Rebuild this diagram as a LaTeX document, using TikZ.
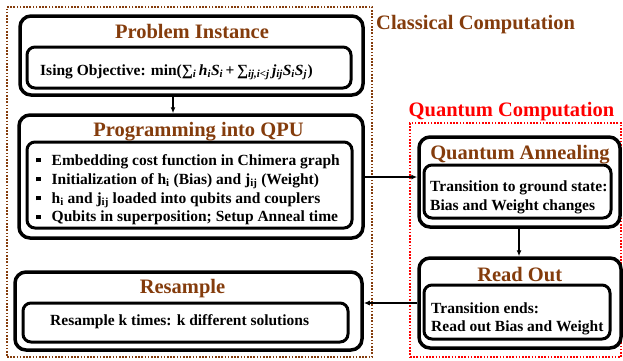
\documentclass[tikz,border=0pt]{standalone}
\usepackage{fontspec}
\setmainfont{Liberation Serif}
\usetikzlibrary{arrows.meta}
\definecolor{brn}{HTML}{843C0C}
\definecolor{qred}{HTML}{FF0000}
\tikzset{
  obox/.style={draw, line width=3.5pt, rounded corners=11pt},
  ibox/.style={draw, line width=3pt, rounded corners=8pt},
  cframe/.style={draw=brn, line width=1.8pt, dash pattern=on 1.6pt off 1.6pt},
  qframe/.style={draw=qred, line width=1.8pt, dash pattern=on 1.6pt off 1.6pt},
  ttl/.style={inner sep=0pt, text=brn, font=\bfseries\fontsize{20.5}{24}\selectfont, anchor=base},
  framelabel/.style={inner sep=0pt, font=\bfseries\fontsize{20.5}{24}\selectfont, anchor=base west},
  body/.style={inner sep=0pt, font=\bfseries\fontsize{15.5}{19}\selectfont, anchor=base west},
  arr/.style={line width=1.3pt, -{Latex[length=6pt,width=5pt]}}
}
\newcommand{\blt}{\raisebox{2.6pt}{\rule{4.5pt}{4.5pt}}\hspace{11pt}}
\newcommand{\sbi}[1]{\textsubscript{\itshape #1}}
\begin{document}
\begin{tikzpicture}[x=1pt,y=-1pt]
\useasboundingbox (0,0) rectangle (623,360);
% frames
\node[cframe, minimum width=365pt, minimum height=350pt] (cfr) at (189.5,182) {};
\node[qframe, minimum width=211pt, minimum height=234pt] (qfr) at (515.5,240) {};
\node[framelabel, text=brn] (clab) at (376,29) {Classical Computation};
\node[framelabel, text=qred] (qlab) at (408.5,116) {Quantum Computation};
% Problem instance
\node[obox, minimum width=343pt, minimum height=79pt] (pi) at (191.5,55.5) {};
\node[ibox, minimum width=324pt, minimum height=41pt] (piin) at (189,67.5) {};
\node[ttl] (pit) at (192,38.5) {Problem Instance};
\node[body] (pil) at (40,75) {Ising Objective: min(∑\sbi{i}\hspace{2.5pt}{\itshape h}\sbi{i}{\itshape S}\sbi{i}\hspace{2.5pt}+\hspace{2.5pt}∑\sbi{ij,i<j}\hspace{2.5pt}{\itshape j}\sbi{ij}{\itshape S}\sbi{i}{\itshape S}\sbi{j}\hspace{0.5pt})};
% Programming
\node[obox, minimum width=344pt, minimum height=123pt] (prog) at (191,176.5) {};
\node[ibox, minimum width=325pt, minimum height=86pt] (progin) at (189.5,185) {};
\node[ttl] (progt) at (198.5,136) {Programming into QPU};
\node[body] (pl1) at (36,165) {\blt Embedding cost function in Chimera graph};
\node[body] (pl2) at (36,184) {\blt Initialization of h\textsubscript{i} (Bias) and j\textsubscript{ij} (Weight)};
\node[body] (pl3) at (36,203) {\blt h\textsubscript{i} and j\textsubscript{ij} loaded into qubits and couplers};
\node[body] (pl4) at (36,221.7) {\blt Qubits in superposition; Setup Anneal time};
% Resample
\node[obox, minimum width=347pt, minimum height=78pt] (res) at (188.5,311) {};
\node[ibox, minimum width=325pt, minimum height=39pt] (resin) at (185.5,322.5) {};
\node[ttl] (rest) at (182.5,293.3) {Resample};
\node[body] (resl) at (50,325) {Resample k times: k different solutions};
% Quantum annealing
\node[obox, minimum width=201pt, minimum height=90pt] (qa) at (519.5,182) {};
\node[ibox, minimum width=187pt, minimum height=53pt] (qain) at (517.5,191.5) {};
\node[ttl] (qat) at (520,159.3) {Quantum Annealing};
\node[body] (qal1) at (430,191.7) {Transition to ground state:};
\node[body] (qal2) at (430,210) {Bias and Weight changes};
% Read out
\node[obox, minimum width=202pt, minimum height=90pt] (ro) at (520,303) {};
\node[ibox, minimum width=186pt, minimum height=54pt] (roin) at (517,312) {};
\node[ttl] (rot) at (519.7,281.7) {Read Out};
\node[body] (rol1) at (431,313.3) {Transition ends:};
\node[body] (rol2) at (431,331.7) {Read out Bias and Weight};
% connectors
\coordinate (ax) at (173,0);
\coordinate (ay) at (0,177);
\coordinate (bx) at (519,0);
\coordinate (cy) at (0,303);
\draw[arr] (pi.south -| ax) -- (prog.north -| ax);
\draw[arr] (prog.east |- ay) -- (qa.west |- ay);
\draw[arr] (qa.south -| bx) -- (ro.north -| bx);
\draw[arr] (ro.west |- cy) -- (res.east |- cy);
\end{tikzpicture}
\end{document}
